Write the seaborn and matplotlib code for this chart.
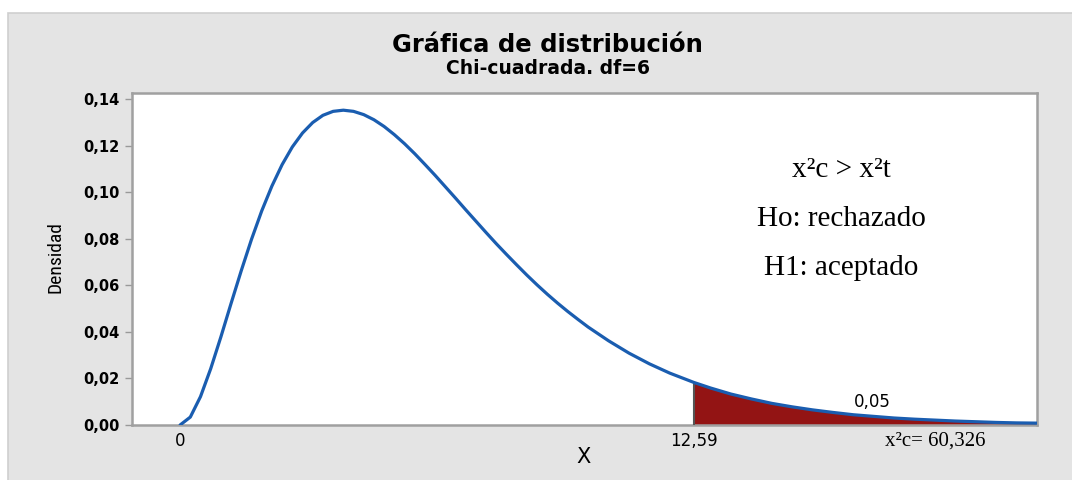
import numpy as np
import pandas as pd
import seaborn as sns
import matplotlib.pyplot as plt
from matplotlib.patches import Rectangle

# densidad chi-cuadrada df=6
x_vals = [0, 0.25, 0.5, 0.75, 1, 1.25, 1.5, 1.75, 2, 2.25, 2.5, 2.75, 3, 3.25,
          3.5, 3.75, 4, 4.25, 4.5, 4.75, 5, 5.25, 5.5, 5.75, 6, 6.25, 6.5,
          6.75, 7, 7.25, 7.5, 7.75, 8, 8.25, 8.5, 8.75, 9, 9.25, 9.5, 9.75,
          10, 10.5, 11, 11.5, 12, 12.59, 13, 13.5, 14, 14.5, 15,
          15.5, 16, 16.5, 17, 17.5, 18, 18.5, 19, 19.5, 20, 20.5, 21]
dens_vals = [0.0, 0.0034, 0.0122, 0.0242, 0.0379, 0.0523, 0.0664, 0.0798,
             0.0920, 0.1027, 0.1119, 0.1195, 0.1255, 0.1300, 0.1331, 0.1348,
             0.1353, 0.1348, 0.1334, 0.1312, 0.1283, 0.1248, 0.1209, 0.1166,
             0.1120, 0.1073, 0.1024, 0.0975, 0.0925, 0.0876, 0.0827, 0.0779,
             0.0733, 0.0688, 0.0644, 0.0602, 0.0562, 0.0524, 0.0488, 0.0454,
             0.0421, 0.0362, 0.0309, 0.0263,
             0.0223, 0.0183, 0.0159, 0.0133, 0.0112, 0.0093, 0.0078, 0.0065,
             0.0054, 0.0044, 0.0037, 0.0030, 0.0025, 0.0021, 0.0017, 0.0014,
             0.0011, 0.0009, 0.0008]
x_crit = 12.59
area_label = "0,05"
chi_calc_label = "x²c= 60,326"
y_ticks = [0, 0.02, 0.04, 0.06, 0.08, 0.10, 0.12, 0.14]
x_ticks = [0, x_crit]
x_tick_labels = ["0", "12,59"]
notes = ["x²c > x²t", "Ho: rechazado", "H1: aceptado"]

df = pd.DataFrame({"x": x_vals, "dens": dens_vals})
tail = df[df["x"] >= x_crit]

sns.set_style("white")
plt.rcParams["font.family"] = ["DejaVu Sans"]
plt.rcParams["text.color"] = "black"
plt.rcParams["xtick.color"] = "black"
plt.rcParams["ytick.color"] = "black"

fig = plt.figure(figsize=(10.72, 4.8), dpi=100)
fig.patch.set_facecolor("white")
# panel gris de fondo
fig.patches.append(Rectangle((0.0075, -0.01), 1.0, 0.983, transform=fig.transFigure,
                             facecolor="#e4e4e4", edgecolor="#cfcfcf", lw=1.2, zorder=-5))

ax = fig.add_axes([0.1231, 0.1146, 0.8442, 0.6917])
ax.set_facecolor("white")

ax.fill_between(tail["x"], 0, tail["dens"], color="#931414", lw=0, zorder=2)
ax.vlines(x_crit, 0, tail["dens"].iloc[0], color="#555555", lw=1.5, zorder=3)
sns.lineplot(data=df, x="x", y="dens", ax=ax, color="#1a5db0", lw=2.3, zorder=4)

ax.set_xlim(-1.18, 21.0)
ax.set_ylim(0, 0.1427)

ax.set_yticks(y_ticks)
ax.set_yticklabels([f"{v:.2f}".replace(".", ",") for v in y_ticks],
                   fontsize=10.5, fontweight="bold")
ax.set_xticks(x_ticks)
ax.set_xticklabels(x_tick_labels, fontsize=12)
ax.tick_params(axis="y", length=5, width=1, color="#999999", labelcolor="black",
               pad=4, direction="out", left=True)
ax.tick_params(axis="x", length=0, pad=5, labelcolor="black")

for s in ax.spines.values():
    s.set_color("#a0a0a0")
    s.set_linewidth(1.8)

ax.set_xlabel("")
ax.set_ylabel("")

fig.text(0.511, 0.906, "Gráfica de distribución", ha="center", va="center",
         fontsize=17.5, fontweight="bold")
fig.text(0.511, 0.857, "Chi-cuadrada. df=6", ha="center", va="center",
         fontsize=13.5, fontweight="semibold")
fig.text(0.544, 0.047, "X", ha="center", va="center", fontsize=15)
fig.text(0.052, 0.465, "Densidad", ha="center", va="center", rotation=90,
         fontsize=14, fontstretch="condensed",
         family=["Liberation Sans Narrow", "Roboto Condensed", "Open Sans"])

ax.text(16.97, 0.0099, area_label, ha="center", va="center", fontsize=12)
fig.text(0.872, 0.081, chi_calc_label, ha="center", va="center",
         fontsize=15, family="Liberation Serif")

note_y = [0.646, 0.544, 0.442]
for t, yy in zip(notes, note_y):
    fig.text(0.785, yy, t, ha="center", va="center", fontsize=21,
             family="Liberation Serif")

fig.savefig("out.png", dpi=100)
